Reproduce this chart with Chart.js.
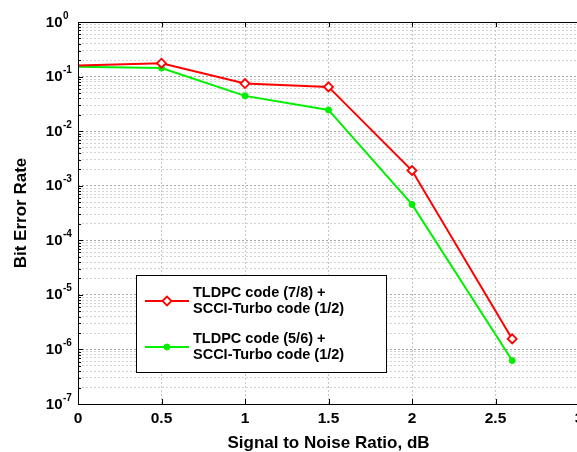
<!DOCTYPE html>
<html>
<head>
<meta charset="utf-8">
<title>Bit Error Rate</title>
<script src="https://cdn.jsdelivr.net/npm/chart.js@4.4.0/dist/chart.umd.min.js"></script>
<style>
  html, body { margin: 0; padding: 0; background: #fff; }
  #wrap { width: 577px; height: 452px; overflow: hidden; }
  canvas { display: block; }
</style>
</head>
<body>
<div id="wrap"><canvas id="ber" width="600" height="452"></canvas></div>
<script>
// SNR (dB) and measured bit error rates
const snrValues = [0, 0.5, 1, 1.5, 2, 2.6];
const berTldpc78 = [0.159, 0.176, 0.0745, 0.0647, 0.0019, 1.56e-6];
const berTldpc56 = [0.151, 0.143, 0.0443, 0.0245, 4.55e-4, 6.25e-7];
const seriesLabels = [
  ['TLDPC code (7/8) +', 'SCCI-Turbo code (1/2)'],
  ['TLDPC code (5/6) +', 'SCCI-Turbo code (1/2)'],
];
const decadeExponents = [0, -1, -2, -3, -4, -5, -6, -7];
const xTickValues = [0, 0.5, 1, 1.5, 2, 2.5, 3];

const FONT = "'Liberation Sans', Arial, sans-serif";

function isDecade(v) {
  const l = Math.log10(v);
  return Math.abs(l - Math.round(l)) < 1e-9;
}

// 1..9 x 10^e for every decade on the axis
function buildLogTicks() {
  const ticks = [];
  const lo = Math.min(...decadeExponents);
  const hi = Math.max(...decadeExponents);
  for (let e = lo; e < hi; e++) {
    for (let m = 1; m <= 9; m++) ticks.push({ value: m * Math.pow(10, e) });
  }
  ticks.push({ value: Math.pow(10, hi) });
  return ticks;
}

function drawLegend(chart) {
  const ctx = chart.ctx;
  const box = { x: 136.5, y: 275.5, w: 250, h: 97 };
  ctx.save();
  ctx.fillStyle = '#fff';
  ctx.fillRect(box.x, box.y, box.w, box.h);
  ctx.strokeStyle = '#000';
  ctx.lineWidth = 1;
  ctx.strokeRect(box.x, box.y, box.w, box.h);

  chart.data.datasets.forEach((ds, i) => {
    const cy = box.y + 25.5 + i * 46;
    ctx.strokeStyle = ds.borderColor;
    ctx.lineWidth = ds.borderWidth;
    ctx.beginPath();
    ctx.moveTo(145, cy);
    ctx.lineTo(189, cy);
    ctx.stroke();

    ctx.fillStyle = ds.pointBackgroundColor;
    ctx.strokeStyle = ds.pointBorderColor;
    ctx.lineWidth = ds.pointBorderWidth;
    Chart.helpers.drawPoint(ctx, {
      pointStyle: ds.pointStyle,
      radius: ds.legendPointRadius,
      borderWidth: ds.pointBorderWidth,
      rotation: 0,
    }, 167, cy);

    ctx.fillStyle = '#000';
    ctx.font = 'bold 14.5px ' + FONT;
    ctx.textAlign = 'left';
    ctx.textBaseline = 'middle';
    ds.label.forEach((line, k) => {
      ctx.fillText(line, 193, cy - 8.3 + k * 16.6);
    });
  });
  ctx.restore();
}

const axesFrame = {
  id: 'axesFrame',
  afterDatasetsDraw(chart) {
    const ctx = chart.ctx;
    const { left, right, top, bottom } = chart.chartArea;
    const xs = chart.scales.x;
    const ys = chart.scales.y;

    ctx.save();
    ctx.strokeStyle = '#000';
    ctx.lineWidth = 1;

    // box outline
    ctx.beginPath();
    ctx.moveTo(left + 0.5, top + 0.5);
    ctx.lineTo(right, top + 0.5);
    ctx.moveTo(left + 0.5, top);
    ctx.lineTo(left + 0.5, bottom + 0.5);
    ctx.lineTo(right, bottom + 0.5);
    ctx.stroke();

    // inward tick marks
    ctx.beginPath();
    xTickValues.forEach((v) => {
      const px = Math.round(xs.getPixelForValue(v)) + 0.5;
      ctx.moveTo(px, bottom);
      ctx.lineTo(px, bottom - 5);
      ctx.moveTo(px, top);
      ctx.lineTo(px, top + 5);
    });
    ys.ticks.forEach((t) => {
      const py = Math.round(ys.getPixelForValue(t.value)) + 0.5;
      const len = isDecade(t.value) ? 5 : 3;
      ctx.moveTo(left, py);
      ctx.lineTo(left + len, py);
    });
    ctx.stroke();

    // y labels as 10 with a raised exponent
    ctx.fillStyle = '#000';
    decadeExponents.forEach((e) => {
      const py = ys.getPixelForValue(Math.pow(10, e));
      ctx.font = 'bold 15px ' + FONT;
      ctx.textAlign = 'right';
      ctx.textBaseline = 'middle';
      ctx.fillText('10', 62.5, py + 0.5);
      ctx.font = 'bold 10px ' + FONT;
      ctx.textAlign = 'left';
      ctx.textBaseline = 'alphabetic';
      ctx.fillText(String(e), 63, py - 3.5);
    });
    ctx.restore();

    drawLegend(chart);
  },
};

const toPoints = (ys) => snrValues.map((x, i) => ({ x, y: ys[i] }));

new Chart(document.getElementById('ber'), {
  type: 'line',
  data: {
    datasets: [
      {
        label: seriesLabels[0],
        data: toPoints(berTldpc78),
        borderColor: '#ff0000',
        borderWidth: 2,
        pointStyle: 'rectRot',
        pointRadius: (c) => (c.dataIndex === 0 ? 0 : 4.5),
        legendPointRadius: 4.5,
        pointBorderWidth: 1.8,
        pointBorderColor: '#ff0000',
        pointBackgroundColor: '#ffffff',
        tension: 0,
      },
      {
        label: seriesLabels[1],
        data: toPoints(berTldpc56),
        borderColor: '#00f000',
        borderWidth: 2,
        pointStyle: 'circle',
        pointRadius: (c) => (c.dataIndex === 0 ? 0 : 3),
        legendPointRadius: 3,
        pointBorderWidth: 1,
        pointBorderColor: '#00f000',
        pointBackgroundColor: '#00f000',
        tension: 0,
      },
    ],
  },
  options: {
    responsive: false,
    animation: false,
    layout: { padding: { top: 22, right: 21, left: 0, bottom: 0 } },
    plugins: {
      legend: { display: false },
      tooltip: { enabled: false },
    },
    scales: {
      x: {
        type: 'linear',
        min: 0,
        max: 3,
        afterBuildTicks: (s) => { s.ticks = xTickValues.map((v) => ({ value: v })); },
        afterFit: (s) => { s.height = 48; },
        ticks: {
          autoSkip: false,
          color: '#000',
          padding: 5,
          font: { family: FONT, size: 15.5, weight: 'bold' },
          callback: (v) => String(v),
        },
        grid: {
          drawTicks: false,
          color: '#c4c4c4',
          lineWidth: 1,
        },
        border: { display: false, dash: [2, 2] },
        title: {
          display: true,
          text: 'Signal to Noise Ratio, dB',
          color: '#000',
          font: { family: FONT, size: 17, weight: 'bold', lineHeight: 1 },
          padding: { top: 0, bottom: 0 },
        },
      },
      y: {
        type: 'logarithmic',
        min: Math.pow(10, Math.min(...decadeExponents)),
        max: Math.pow(10, Math.max(...decadeExponents)),
        afterBuildTicks: (s) => { s.ticks = buildLogTicks(); },
        afterFit: (s) => { s.width = 78; },
        ticks: { display: false, autoSkip: false },
        grid: {
          drawTicks: false,
          color: (c) => (c.tick && isDecade(c.tick.value) ? '#a6a6a6' : '#d2d2d2'),
          lineWidth: 1,
        },
        border: { display: false, dash: [2, 2] },
        title: {
          display: true,
          text: 'Bit Error Rate',
          color: '#000',
          font: { family: FONT, size: 17, weight: 'bold', lineHeight: 1 },
          padding: { top: 12.5, bottom: 0 },
        },
      },
    },
  },
  plugins: [axesFrame],
});
</script>
</body>
</html>
